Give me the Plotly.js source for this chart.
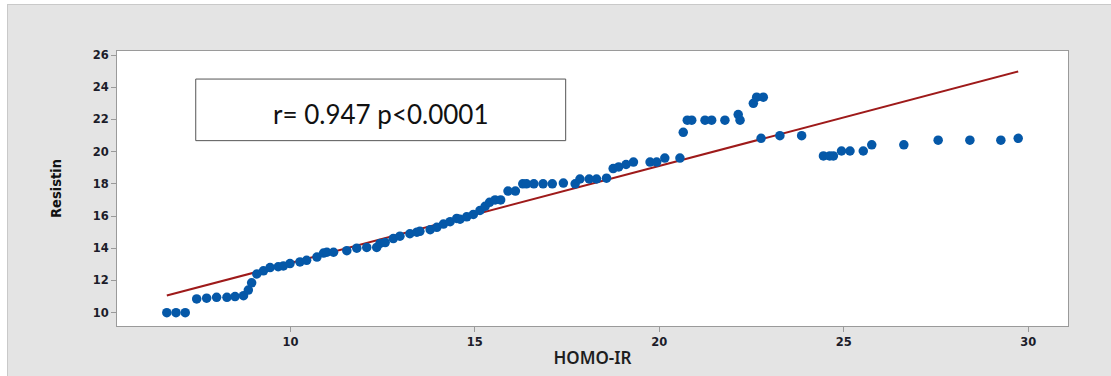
<!DOCTYPE html>
<html>
<head>
<meta charset="utf-8">
<script src="https://cdn.plot.ly/plotly-3.0.1.min.js"></script>
<style>
  html, body { margin: 0; padding: 0; background: #ffffff; width: 1111px; height: 376px; overflow: hidden; }
  #frame { position: absolute; left: 7px; top: 4px; width: 1104px; height: 372px;
           border-left: 1px solid #c9c9c9; border-top: 1px solid #c9c9c9; box-sizing: border-box; background: #e4e4e4; }
  #chart { position: absolute; left: 0; top: 0; width: 1103px; height: 371px; }
</style>
</head>
<body>
<div id="frame"><div id="chart"></div></div>
<script>
// HOMO-IR (x) and Resistin (y) values
const homoIR = [
  6.65, 6.9, 7.15, 7.46, 7.73, 8.0, 8.28, 8.5, 8.73, 8.86,
  8.95, 9.09, 9.27, 9.45, 9.67, 9.81, 9.99, 10.26, 10.44, 10.72,
  10.9, 10.99, 11.17, 11.53, 11.8, 12.07, 12.34, 12.43, 12.57, 12.79,
  12.97, 13.24, 13.43, 13.51, 13.79, 13.97, 14.15, 14.33, 14.51, 14.6,
  14.78, 14.96, 15.14, 15.28, 15.4, 15.55, 15.7, 15.9, 16.1, 16.3,
  16.4, 16.6, 16.85, 17.1, 17.4, 17.72, 17.85, 18.1, 18.3, 18.57,
  18.75, 18.9, 19.1, 19.3, 19.75, 19.93, 20.15, 20.56, 20.65, 20.76,
  20.88, 21.24, 21.42, 21.78, 22.14, 22.19, 22.55, 22.64, 22.82, 22.76,
  23.27, 23.86, 24.45, 24.62, 24.72, 24.94, 25.17, 25.53, 25.76, 26.63,
  27.56, 28.42, 29.26, 29.73
];
const resistin = [
  10.0, 10.0, 10.0, 10.85, 10.9, 10.95, 10.95, 11.0, 11.05, 11.4,
  11.85, 12.4, 12.6, 12.8, 12.85, 12.9, 13.05, 13.15, 13.25, 13.45,
  13.7, 13.75, 13.75, 13.85, 14.0, 14.05, 14.05, 14.3, 14.35, 14.6,
  14.75, 14.9, 15.0, 15.05, 15.15, 15.3, 15.5, 15.65, 15.85, 15.8,
  15.95, 16.1, 16.35, 16.6, 16.85, 17.0, 17.0, 17.55, 17.55, 18.0,
  18.0, 18.0, 18.0, 18.0, 18.05, 18.0, 18.3, 18.3, 18.3, 18.35,
  18.95, 19.05, 19.2, 19.35, 19.35, 19.35, 19.6, 19.6, 21.2, 21.95,
  21.95, 21.95, 21.95, 21.95, 22.3, 21.95, 23.0, 23.38, 23.38, 20.83,
  20.99, 20.99, 19.73, 19.73, 19.73, 20.04, 20.04, 20.04, 20.42, 20.42,
  20.71, 20.71, 20.71, 20.83
];
// Fitted line: Resistin = intercept + slope * HOMO-IR
const fitIntercept = 7.05;
const fitSlope = 0.603;
const statText = "r= 0.947 p<0.0001";
const xTitle = "HOMO-IR";
const yTitle = "Resistin";

const xMin = Math.min(...homoIR), xMax = Math.max(...homoIR);
const fitX = [xMin, xMax];
const fitY = fitX.map(v => fitIntercept + fitSlope * v);

const tickFont = { family: "DejaVu Sans, Verdana, sans-serif", size: 11.5, color: "#1c1c2a", weight: "bold" };

const data = [
  { x: fitX, y: fitY, type: "scatter", mode: "lines",
    line: { color: "#9e1a1a", width: 2 }, hoverinfo: "skip", showlegend: false },
  { x: homoIR, y: resistin, type: "scatter", mode: "markers",
    marker: { color: "#0558a8", size: 9.5, line: { width: 0 } }, showlegend: false }
];

const layout = {
  width: 1103, height: 371,
  paper_bgcolor: "#e4e4e4",
  plot_bgcolor: "#ffffff",
  margin: { l: 109, r: 43, t: 46, b: 50 },
  showlegend: false,
  xaxis: {
    range: [5.3, 31.08], tickvals: [10, 15, 20, 25, 30], ticktext: ["10", "15", "20", "25", "30"],
    ticks: "outside", ticklen: 5, tickcolor: "#9a9a9a", tickwidth: 1,
    showgrid: false, zeroline: false, showline: true, linecolor: "#9a9a9a", linewidth: 1, mirror: true,
    tickfont: tickFont,
    title: { text: xTitle, font: { family: "Noto Sans, Open Sans, sans-serif", size: 17, color: "#1e1e1e", weight: 600 }, standoff: 4 },
    automargin: false
  },
  yaxis: {
    range: [9.17, 26.25], tickvals: [10, 12, 14, 16, 18, 20, 22, 24, 26],
    ticks: "outside", ticklen: 5, tickcolor: "#9a9a9a", tickwidth: 1,
    showgrid: false, zeroline: false, showline: true, linecolor: "#9a9a9a", linewidth: 1, mirror: true,
    tickfont: tickFont,
    title: { text: yTitle, font: { family: "DejaVu Sans Condensed, Liberation Sans Narrow, sans-serif", size: 14.5, color: "#111111", weight: "bold" }, standoff: 27 },
    automargin: false
  },
  shapes: [
    { type: "rect", xref: "paper", yref: "paper", x0: 0.0828, x1: 0.4718, y0: 0.674, y1: 0.898,
      line: { color: "#555555", width: 1 }, fillcolor: "#ffffff", layer: "above" }
  ],
  annotations: [
    { xref: "paper", yref: "paper", x: 0.2773, y: 0.77, xanchor: "center", yanchor: "middle",
      text: statText, showarrow: false,
      font: { family: "Lato, Carlito, Calibri, sans-serif", size: 26, color: "#111111" } }
  ]
};

Plotly.newPlot("chart", data, layout, { displayModeBar: false, staticPlot: true });
</script>
</body>
</html>
